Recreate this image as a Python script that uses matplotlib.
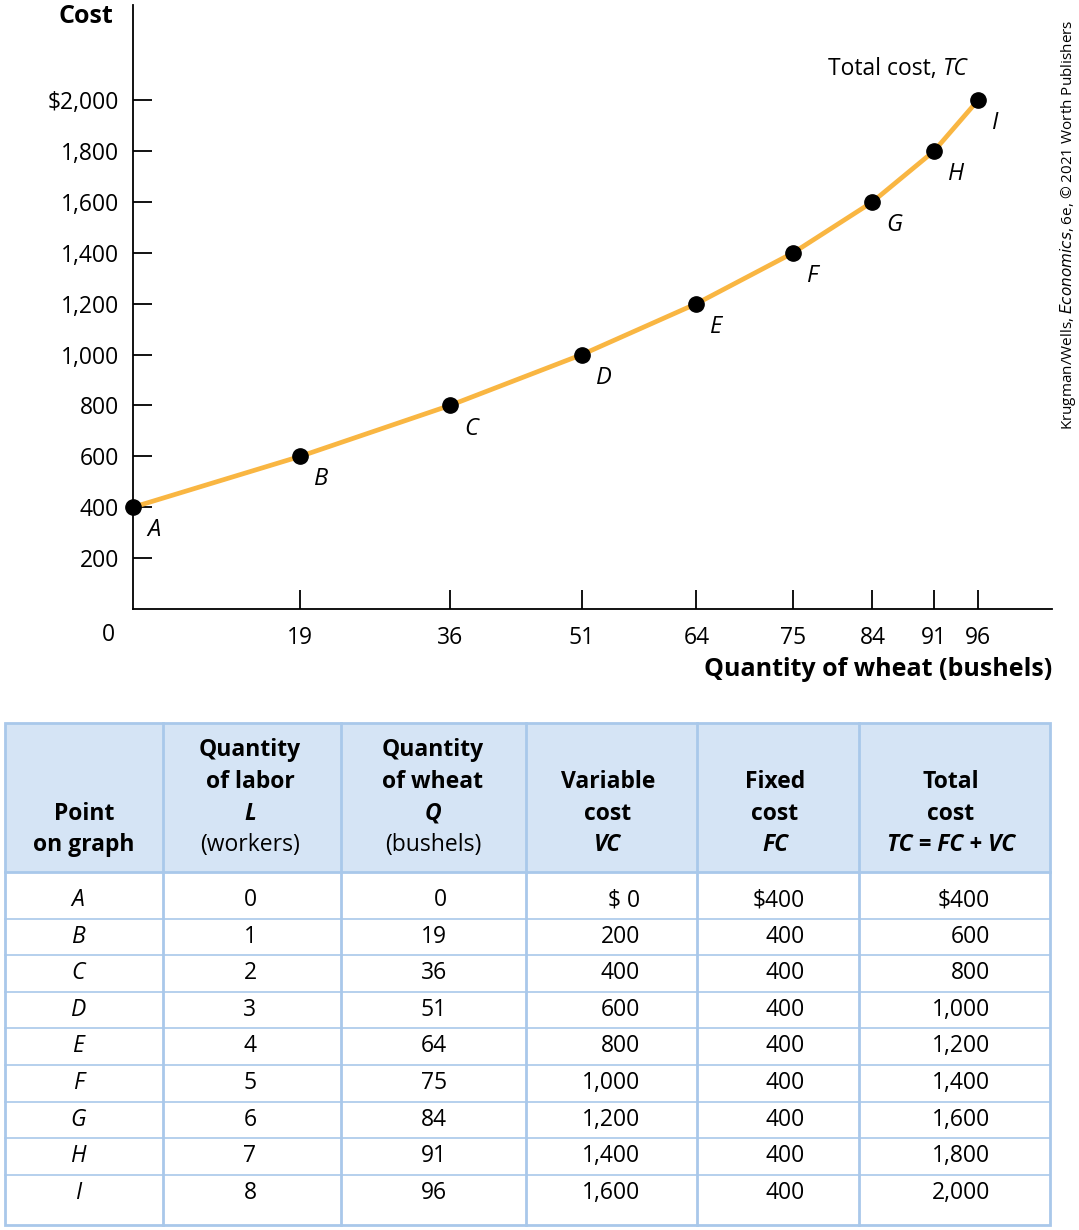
import matplotlib
matplotlib.use('Agg')
import matplotlib.pyplot as plt
from matplotlib.patches import Rectangle

plt.rcParams['font.family'] = ['Open Sans', 'DejaVu Sans']

points = ['A', 'B', 'C', 'D', 'E', 'F', 'G', 'H', 'I']
labor = [0, 1, 2, 3, 4, 5, 6, 7, 8]
wheat = [0, 19, 36, 51, 64, 75, 84, 91, 96]
var_cost = [0, 200, 400, 600, 800, 1000, 1200, 1400, 1600]
fixed_cost = [400] * 9
total_cost = [f + v for f, v in zip(fixed_cost, var_cost)]

fig = plt.figure(figsize=(10.79, 12.30), dpi=100)

# --- chart ---
ax = fig.add_axes([133 / 1079, 1 - 609 / 1230, (1052 - 133) / 1079, (609 - 5) / 1230])
ax.plot(wheat, total_cost, color='#f9b642', lw=3.4, zorder=2)
ax.plot(wheat, total_cost, 'o', color='black', ms=11, zorder=3, clip_on=False)
for p, q, c in zip(points, wheat, total_cost):
    ax.annotate(p, (q, c), xytext=(10, -8), textcoords='offset points',
                fontsize=17, style='italic', ha='left', va='top')
ax.text(92, 2075, 'Total cost, ', fontsize=16.5, ha='right', va='bottom')
ax.text(92, 2075, 'TC', fontsize=16.5, ha='left', va='bottom', style='italic')

ax.set_xlim(0, 104.4)
ax.set_ylim(0, 2374)
ax.set_xticks(wheat[1:])
ax.set_xticklabels([str(w) for w in wheat[1:]], fontsize=16.5)
yt = list(range(200, 2001, 200))
ax.set_yticks(yt)
ax.set_yticklabels([f'{v:,}' if v < 2000 else f'${v:,}' for v in yt], fontsize=16.5)
ax.tick_params(direction='in', length=14, width=1.3, pad=10)
ax.tick_params(axis='x', pad=12)
for s in ['top', 'right']:
    ax.spines[s].set_visible(False)
for s in ['left', 'bottom']:
    ax.spines[s].set_linewidth(1.3)
ax.text(-2.0, -55, '0', fontsize=16.5, ha='right', va='top')
ax.text(-2.2, 2330, 'Cost', fontsize=18, fontweight='bold', ha='right', va='center')
ax.text(104.4, -190, 'Quantity of wheat (bushels)', fontsize=18, fontweight='bold',
        ha='right', va='top')

fig.text(1068 / 1079, 1 - 225 / 1230,
         'Krugman/Wells, $\\it{Economics}$, 6e, © 2021 Worth Publishers',
         rotation=90, fontsize=11, ha='center', va='center')

# --- table ---
tb = fig.add_axes([0, 0, 1, 1])
tb.set_xlim(0, 1079)
tb.set_ylim(1230, 0)
tb.axis('off')

cols = [5, 163, 341, 526, 697, 859, 1050]
top, head_bot, bot = 723, 872, 1225
line_c = '#a9c8ea'
tb.add_patch(Rectangle((cols[0], top), cols[-1] - cols[0], head_bot - top,
                       facecolor='#d5e4f5', edgecolor='none'))
tb.add_patch(Rectangle((cols[0], top), cols[-1] - cols[0], bot - top,
                       facecolor='none', edgecolor=line_c, lw=2))
for x in cols[1:-1]:
    tb.plot([x, x], [top, bot], color=line_c, lw=2)
tb.plot([cols[0], cols[-1]], [head_bot, head_bot], color=line_c, lw=2)
row_h = 36.6
for i in range(1, 9):
    y = head_bot + 10 + i * row_h
    tb.plot([cols[0], cols[-1]], [y, y], color=line_c, lw=1.2)

headers = [
    (84, ['Point', 'on graph'], [True, True], [False, False]),
    (250, ['Quantity', 'of labor', 'L', '(workers)'], [True, True, True, False], [False, False, True, False]),
    (433, ['Quantity', 'of wheat', 'Q', '(bushels)'], [True, True, True, False], [False, False, True, False]),
    (608, ['Variable', 'cost', 'VC'], [True, True, True], [False, False, True]),
    (775, ['Fixed', 'cost', 'FC'], [True, True, True], [False, False, True]),
    (951, ['Total', 'cost', 'TC = FC + VC'], [True, True, True], [False, False, True]),
]
for x, lines, bolds, italics in headers:
    n = len(lines)
    for j, (t, b, it) in enumerate(zip(lines, bolds, italics)):
        y = 845 - (n - 1 - j) * 31.5
        tb.text(x, y, t, fontsize=16.5, ha='center', va='center',
                fontweight='bold' if b else 'normal',
                style='italic' if it else 'normal')

for i in range(9):
    y = 900 + i * row_h
    tb.text(78, y, points[i], fontsize=16.5, style='italic', ha='center', va='center')
    tb.text(250, y, str(labor[i]), fontsize=16.5, ha='center', va='center')
    tb.text(447, y, str(wheat[i]), fontsize=16.5, ha='right', va='center')
    vc = f'$ {var_cost[i]}' if i == 0 else f'{var_cost[i]:,}'
    tb.text(640, y, vc, fontsize=16.5, ha='right', va='center')
    fc = f'${fixed_cost[i]}' if i == 0 else f'{fixed_cost[i]}'
    tb.text(805, y, fc, fontsize=16.5, ha='right', va='center')
    tc = f'${total_cost[i]}' if i == 0 else f'{total_cost[i]:,}'
    tb.text(990, y, tc, fontsize=16.5, ha='right', va='center')

fig.savefig('out.png', dpi=100)
